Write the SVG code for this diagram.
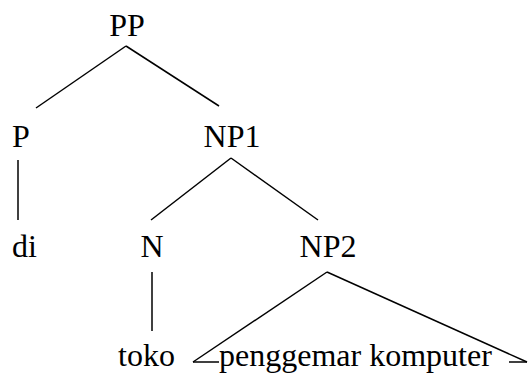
<svg xmlns="http://www.w3.org/2000/svg" width="528" height="374" viewBox="0 0 528 374">
<style>
text{font-family:"Liberation Serif","Times New Roman",serif;font-size:32px;fill:#000}
line{stroke:#000;stroke-width:1.5;stroke-linecap:butt}
</style>
<rect width="528" height="374" fill="#fff"/>
<g id="connectors">
<line x1="126" y1="46" x2="36" y2="108"/>
<line x1="126" y1="46" x2="219" y2="106"/>
<line x1="18" y1="160" x2="18" y2="220"/>
<line x1="231" y1="158" x2="151" y2="220"/>
<line x1="231" y1="158" x2="318" y2="220"/>
<line x1="152" y1="272" x2="152" y2="331"/>
<line x1="327" y1="272" x2="193" y2="362"/>
<line x1="327" y1="272" x2="527" y2="362"/>
<line x1="193" y1="362" x2="219" y2="362"/>
<line x1="509" y1="362" x2="527" y2="362"/>
</g>
<g id="PP"><text x="127" y="36" text-anchor="middle">PP</text></g>
<g id="P"><text x="12" y="147">P</text></g>
<g id="NP1"><text x="232" y="147" text-anchor="middle">NP1</text></g>
<g id="di"><text x="12" y="257">di</text></g>
<g id="N"><text x="152" y="257" text-anchor="middle">N</text></g>
<g id="NP2"><text x="328" y="257" text-anchor="middle">NP2</text></g>
<g id="toko"><text x="118" y="366">toko</text></g>
<g id="penggemar"><text x="219" y="366">penggemar komputer</text></g>
</svg>
